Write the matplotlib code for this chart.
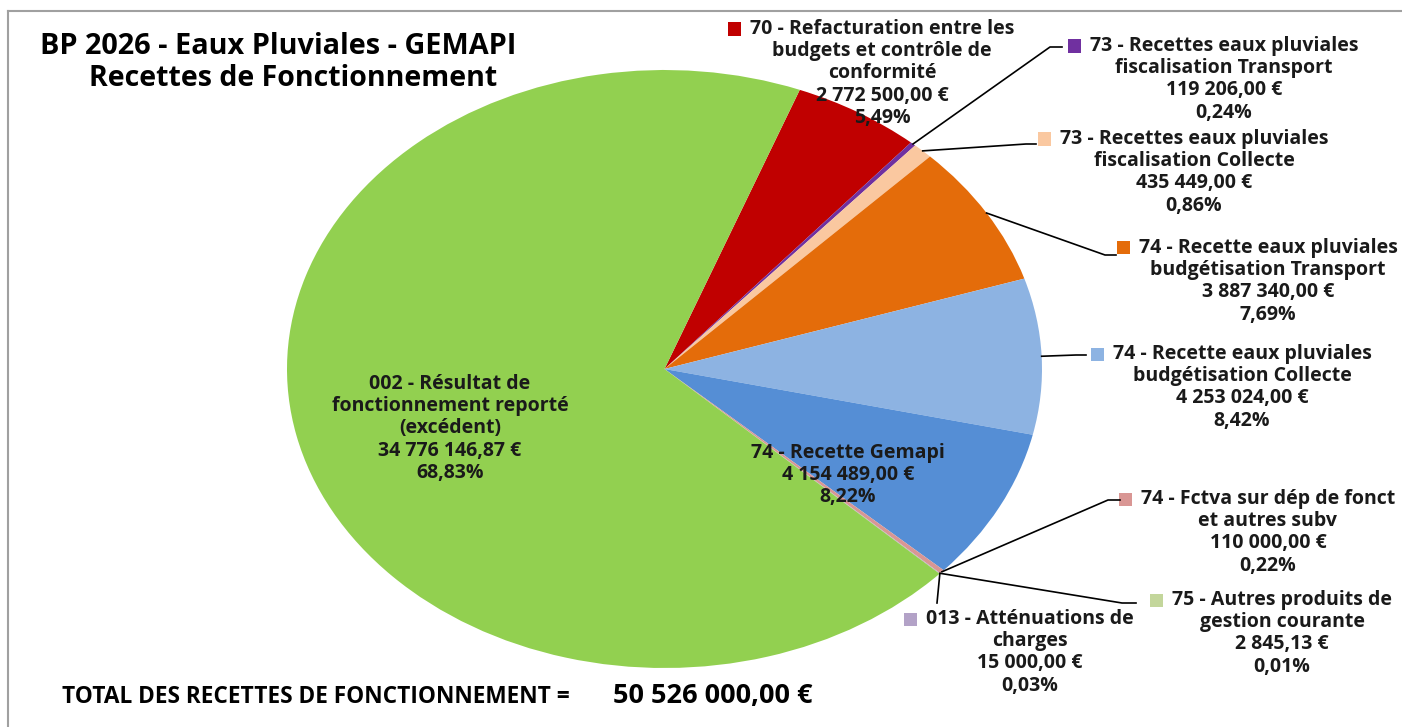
import numpy as np
import matplotlib.pyplot as plt
from matplotlib.lines import Line2D
from matplotlib.patches import Rectangle

W, H = 1402, 727

titre = ["BP 2026 - Eaux Pluviales - GEMAPI", "Recettes de Fonctionnement"]
libelles = [
    "70 - Refacturation entre les\nbudgets et contrôle de\nconformité",
    "73 - Recettes eaux pluviales\nfiscalisation Transport",
    "73 - Recettes eaux pluviales\nfiscalisation Collecte",
    "74 - Recette eaux pluviales\nbudgétisation Transport",
    "74 - Recette eaux pluviales\nbudgétisation Collecte",
    "74 - Recette Gemapi",
    "74 - Fctva sur dép de fonct\net autres subv",
    "75 - Autres produits de\ngestion courante",
    "013 - Atténuations de\ncharges",
    "002 - Résultat de\nfonctionnement reporté\n(excédent)",
]
montants = [2772500.00, 119206.00, 435449.00, 3887340.00, 4253024.00,
            4154489.00, 110000.00, 2845.13, 15000.00, 34776146.87]
montants_txt = ["2 772 500,00 €", "119 206,00 €", "435 449,00 €", "3 887 340,00 €",
                "4 253 024,00 €", "4 154 489,00 €", "110 000,00 €", "2 845,13 €",
                "15 000,00 €", "34 776 146,87 €"]
pourcents = ["5,49%", "0,24%", "0,86%", "7,69%", "8,42%", "8,22%",
             "0,22%", "0,01%", "0,03%", "68,83%"]
couleurs = ["#C00000", "#7030A0", "#FAC8A0", "#E46C0A", "#8DB3E2",
            "#558ED5", "#D99694", "#C3D69B", "#B3A2C7", "#92D050"]
total_txt = "50 526 000,00 €"

# positions des etiquettes (pixels, haut-gauche) : centre x, centre de la 1re ligne
pos_etiq = [(882, 29), (1224, 46), (1194, 139), (1268, 248), (1242, 354),
            (848, 453), (1268, 499), (1282, 600), (1030, 619), (450, 384)]
# coudes des lignes de rappel (None = pas de ligne)
coudes = [None, [(1050, 47), (1062, 47)], [(1026, 144), (1036, 144)],
          [(1105, 255), (1116, 255)], [(1076, 355), (1086, 355)], None,
          [(1108, 500), (1120, 500)], [(1122, 603), (1136, 603)],
          [(937, 603)], None]
avec_carre = [True, True, True, True, True, False, True, True, True, False]

plt.rcParams['font.family'] = ['Open Sans', 'DejaVu Sans']


fig = plt.figure(figsize=(W / 100, H / 100), dpi=100)
fig.patch.set_facecolor("white")

# cadre
fig.add_artist(Line2D([8 / W, 1.0], [1 - 11 / H, 1 - 11 / H], transform=fig.transFigure,
                      color="#A0A0A0", lw=1.5))
fig.add_artist(Line2D([8 / W, 8 / W], [1 - 11 / H, 0], transform=fig.transFigure,
                      color="#A0A0A0", lw=1.5))

ax = fig.add_axes([287 / W, 1 - 668 / H, 755 / W, 598 / H])
wedges, _ = ax.pie(montants, colors=couleurs, startangle=69, counterclock=False,
                   radius=1, wedgeprops=dict(linewidth=0))
ax.set_aspect('auto')
ax.set_xlim(-1, 1)
ax.set_ylim(-1, 1)
ax.axis('off')

fig.canvas.draw()
rend = fig.canvas.get_renderer()

taille = 14
ligne = 22.2
for i, w in enumerate(wedges):
    lignes = libelles[i].split("\n") + [montants_txt[i], pourcents[i]]
    cx, cy = pos_etiq[i]
    for k, l in enumerate(lignes):
        t = fig.text(cx / W, 1 - (cy + k * ligne) / H, l, ha="center", va="center",
                     fontsize=taille, fontweight="bold", color="#1A1A1A")
        if k == 0 and avec_carre[i]:
            bb = t.get_window_extent(renderer=rend)
            x0 = bb.x0 - 22
            y0 = H - cy - 6.5
            fig.add_artist(Rectangle((x0 / W, y0 / H), 13 / W, 13 / H,
                                     transform=fig.transFigure,
                                     facecolor=couleurs[i], edgecolor="none"))
    if coudes[i] is not None:
        theta = np.deg2rad((w.theta1 + w.theta2) / 2)
        px, py = ax.transData.transform((np.cos(theta), np.sin(theta)))
        xs = [px / W] + [x / W for x, y in coudes[i]]
        ys = [py / H] + [1 - y / H for x, y in coudes[i]]
        fig.add_artist(Line2D(xs, ys, transform=fig.transFigure, color="black", lw=1.2))

fig.text(40 / W, 1 - 47 / H, titre[0], fontsize=20.8, fontweight="bold", va="center", ha="left")
fig.text(293 / W, 1 - 78 / H, titre[1], fontsize=20.5, fontweight="bold", va="center", ha="center")

fig.text(62 / W, 1 - 697 / H, "TOTAL DES RECETTES DE FONCTIONNEMENT =", fontsize=16.3,
         fontweight="bold", va="center", ha="left")
fig.text(613 / W, 1 - 696 / H, total_txt, fontsize=19.5, fontweight="bold", va="center", ha="left")

fig.savefig("out.png", dpi=100)
